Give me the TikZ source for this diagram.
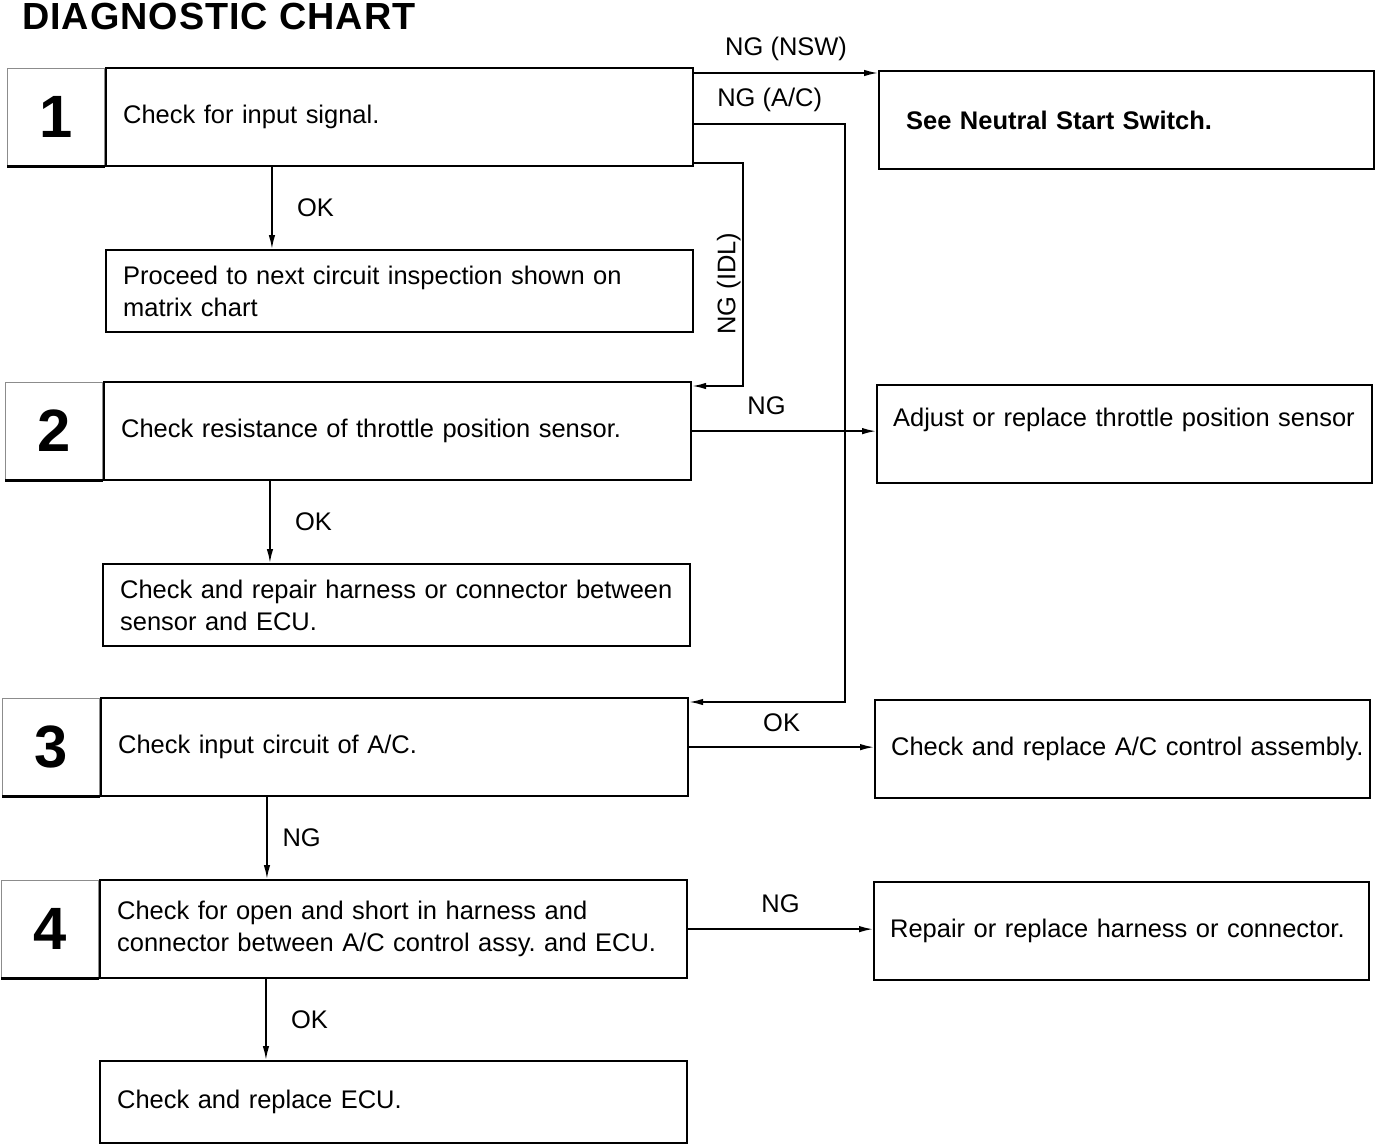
\documentclass[tikz,border=0pt]{standalone}
\usepackage{fontspec}
\setmainfont{Liberation Sans}
\usetikzlibrary{arrows.meta,positioning}

\begin{document}
\begin{tikzpicture}[x=0.02cm,y=-0.02cm,
    stepbox/.style={draw,line width=1.3pt,anchor=north west,align=left,
                    inner ysep=0pt,inner xsep=0.34cm,text width=11.06cm,
                    minimum height=1.96cm,font=\fontsize{14.5}{18}\selectfont},
    endbox/.style={stepbox,inner xsep=0.32cm,text width=9.26cm},
    numcell/.style={draw=black!45,line width=0.4pt,anchor=east,inner sep=0pt,
                    minimum width=1.94cm,minimum height=1.96cm,
                    font=\fontsize{34}{34}\selectfont\bfseries},
    flow/.style={line width=0.9pt,-{Latex[length=0.28cm,width=0.13cm]}},
    lbl/.style={font=\fontsize{14.5}{16}\selectfont,inner sep=1pt}]
    \useasboundingbox (0,0) rectangle (1392,1146);
    \node[anchor=base west,inner sep=0pt,font=\fontsize{21.5}{21.5}\selectfont\bfseries\addfontfeatures{LetterSpace=2.5}] (title) at (22,30) {DIAGNOSTIC CHART};
    %==================
    \node[stepbox] (s1) at (105,67) {Check for input signal.};
    \node[stepbox,minimum height=1.64cm] (p) at (105,249) {Proceed to next circuit inspection shown on\\matrix chart};
    \node[stepbox] (s2) at (103,381) {Check resistance of throttle position sensor.};
    \node[stepbox,minimum height=1.64cm] (rep) at (102,563) {Check and repair harness or connector between\\sensor and ECU.};
    \node[stepbox] (s3) at (100,697) {Check input circuit of A/C.};
    \node[stepbox] (s4) at (99,879) {Check for open and short in harness and\\connector between A/C control assy.\ and ECU.};
    \node[stepbox,minimum height=1.64cm] (ecu) at (99,1060) {Check and replace ECU.};
    %==================
    \node[endbox,inner xsep=0.54cm,text width=8.82cm,font=\fontsize{14.5}{18}\selectfont\bfseries] (nsw) at (878,70) {See Neutral Start Switch.};
    \node[endbox,text depth=0.68cm] (adj) at (876,384) {Adjust or replace throttle position sensor};
    \node[endbox] (ac) at (874,699) {\mbox{Check and replace A/C control assembly.}};
    \node[endbox] (hr) at (873,881) {Repair or replace harness or connector.};
    %==================
    \foreach \n in {1,...,4}{
    \node[numcell] (n\n) at (s\n.west) {\n};
    \draw[line width=1.3pt] (n\n.south west) -- (n\n.south east);
    }
    % ===================
    \foreach \a/\b/\t/\d in {s1/p/OK/0.45cm,s2/rep/OK/0.45cm,s3/s4/NG/0.26cm,s4/ecu/OK/0.45cm}{
    \coordinate (\a-dn) at ([xshift=3.34cm]\a.south west);
    \draw[flow] (\a-dn) -- node[lbl,right=\d]{\t} (\a-dn |- \b.north);
    }
    % ===================
    \coordinate (nswout) at ([yshift=-0.12cm]s1.north east);
    \draw[flow] (nswout) -- node[lbl,above=0.2cm]{NG (NSW)} (nswout -| nsw.west);
    \coordinate (acout) at ([yshift=-0.14cm]s1.east);
    \coordinate (acin) at ([yshift=-0.1cm]s3.north east);
    \draw[flow] (acout) -- node[lbl,above=0.2cm]{NG (A/C)} ++(151,0) |- (acin);
    \coordinate (idlout) at ([yshift=0.08cm]s1.south east);
    \coordinate (idlin) at ([yshift=-0.1cm]s2.north east);
    \draw[flow] (idlout) -- ++(49,0) |- node[lbl,pos=0.27,rotate=90,anchor=south]{NG (IDL)} (idlin);
    % ===================
    \draw[flow] (s2.east) -- node[lbl,above=0.28cm,xshift=-0.35cm]{NG} (s2.east -| adj.west);
    \draw[flow] (s3.east) -- node[lbl,above=0.26cm]{OK} (s3.east -| ac.west);
    \draw[flow] (s4.east) -- node[lbl,above=0.28cm]{NG} (s4.east -| hr.west);
\end{tikzpicture}
\end{document}
